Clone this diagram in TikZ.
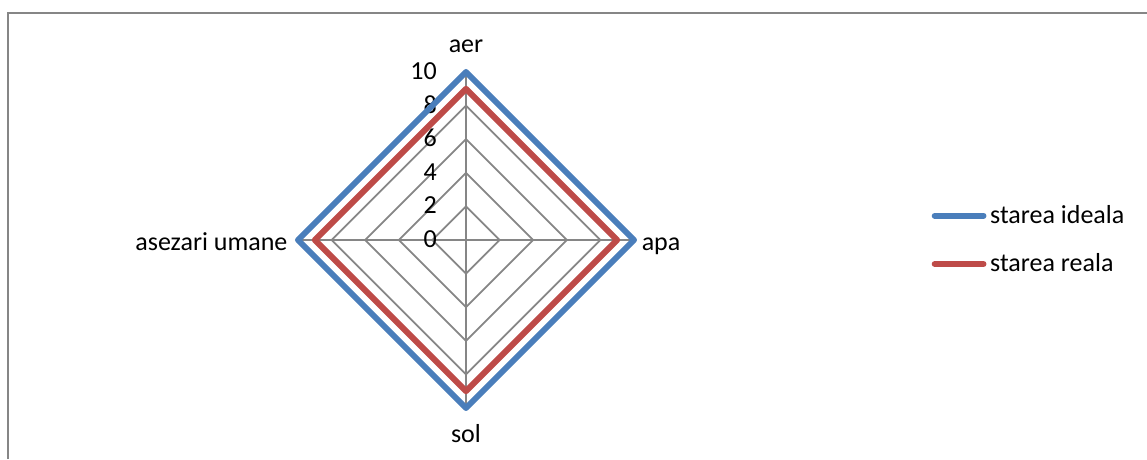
\documentclass[tikz,border=0pt]{standalone}
\usepackage{fontspec}
\setmainfont{Carlito}
\definecolor{ideal}{RGB}{74,126,187}
\definecolor{real}{RGB}{190,75,72}
\definecolor{gridgray}{RGB}{134,134,134}
\tikzset{
  gridline/.style={draw=gridgray, line width=1.8pt},
  serie/.style={line width=6pt, line join=round},
  legline/.style={line width=6pt, line cap=round},
  lbl/.style={inner sep=0pt, font=\fontsize{26}{30}\selectfont},
}

\begin{document}
\begin{tikzpicture}[x=16.8pt,y=16.8pt]
	\useasboundingbox (-27.738,-13.036) rectangle (40.536,14.286);
	% chart area border
	\draw[gridgray, line width=2pt] (-27.262,-13.036) -- (-27.262,13.482) -- (40.536,13.482);
	% axes
	\coordinate (O) at (0,0);
	\coordinate (aer) at (90:10);
	\coordinate (apa) at (0:10);
	\coordinate (sol) at (270:10);
	\coordinate (asez) at (180:10);
	\foreach \r in {2,4,6,8,10}
		\draw[gridline] (90:\r) -- (0:\r) -- (270:\r) -- (180:\r) -- cycle;
	\draw[gridline] (aer) -- (sol);
	\draw[gridline] (asez) -- (apa);
	\foreach \v in {0,2,...,10}
		\node[lbl, anchor=base east] (t\v) at (-1.73,\v-0.45) {\v};
	% series
	\draw[serie, real] (90:9) -- (0:9) -- (270:9) -- (180:9) -- cycle;
	\draw[serie, ideal] (aer) -- (apa) -- (sol) -- (asez) -- cycle;
	% category labels
	\node[lbl, anchor=base] (laer) at (0,11.16) {aer};
	\node[lbl, anchor=base west] (lapa) at (10.45,-0.61) {apa};
	\node[lbl, anchor=base east] (lasez) at (-10.62,-0.61) {asezari umane};
	\node[lbl, anchor=base] (lsol) at (0,-12.07) {sol};
	% legend
	\node[lbl, anchor=base west] (kideal) at (31.19,0.99) {starea ideala};
	\node[lbl, anchor=base west] (kreal) at (31.19,-1.88) {starea reala};
	\coordinate (sideal) at (27.9,1.446);
	\coordinate (sreal) at (27.9,-1.43);
	\draw[legline, ideal] (sideal) -- ([xshift=-6.5pt]sideal -| kideal.west);
	\draw[legline, real] (sreal) -- ([xshift=-6.5pt]sreal -| kreal.west);
\end{tikzpicture}
\end{document}
